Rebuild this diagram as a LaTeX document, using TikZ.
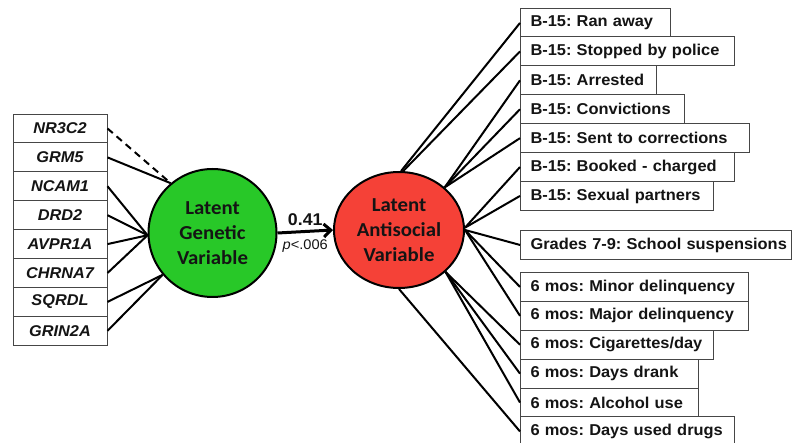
\documentclass[tikz,border=0pt]{standalone}
\usepackage{fontspec}
\usetikzlibrary{shapes.geometric,arrows.meta}
\newfontfamily\arialf[FakeStretch=1.045]{Liberation Sans}
\newfontfamily\calf[FakeStretch=1.05]{Carlito}
\definecolor{latgreen}{RGB}{40,200,40}
\definecolor{latred}{RGB}{245,65,55}
\definecolor{boxline}{RGB}{70,70,70}
\definecolor{txt}{RGB}{20,20,20}
\begin{document}
\frenchspacing
\begin{tikzpicture}[x=1pt,y=-1pt,
  lbox/.style={draw=boxline, line width=1pt, fill=white, text=txt,
    minimum width=94pt, minimum height=28.9pt, inner sep=0pt,
    font=\arialf\bfseries\itshape\fontsize{15.6}{17}\selectfont},
  rbox/.style={draw=boxline, line width=1pt, fill=white, text=txt, anchor=north west,
    minimum height=28.9pt, inner ysep=0pt, inner xsep=10pt, align=left,
    font=\arialf\bfseries\fontsize{15.7}{17}\selectfont},
  conn/.style={line width=2pt, black},
  latent/.style={draw=black, line width=2pt, text=txt, align=center,
    font=\calf\bfseries\fontsize{19.8}{25}\selectfont}]
\useasboundingbox (0,0) rectangle (793,443);

% latent variables
\node[latent, circle, fill=latgreen, minimum size=128pt, inner sep=0pt] (g) at (212.5,233)
  {Latent\\Genetic\\Variable};
\node[latent, ellipse, fill=latred, minimum width=130pt, minimum height=116pt, inner sep=0pt] (r) at (399,230)
  {Latent\\Antisocial\\Variable};

% left boxes
\node[lbox] (l1) at (60,128.5) {NR3C2};
\node[lbox] (l2) at (60,157.4) {GRM5};
\node[lbox] (l3) at (60,186.3) {NCAM1};
\node[lbox] (l4) at (60,215.2) {DRD2};
\node[lbox] (l5) at (60,244.1) {AVPR1A};
\node[lbox] (l6) at (60,273.0) {CHRNA7};
\node[lbox] (l7) at (60,301.9) {SQRDL};
\node[lbox] (l8) at (60,330.8) {GRIN2A};

\draw[conn, dashed, dash pattern=on 7pt off 5pt] (l1.east) -- (g.130);
\draw[conn] (l2.east) -- (g.130);
\draw[conn] (l3.east) -- (g.182);
\draw[conn] (l4.east) -- (g.182);
\draw[conn] (l5.east) -- (g.182);
\draw[conn] (l6.east) -- (g.182);
\draw[conn] (l7.east) -- (g.220);
\draw[conn] (l8.east) -- (g.220);

% structural path
\draw[line width=3pt, -{Straight Barb[length=7pt,width=13pt,line width=3pt]}] (g.east) -- (r.west)
  node[midway, above=1pt, font=\arialf\bfseries\fontsize{17}{19}\selectfont, text=txt] (coef) {0.41}
  node[midway, below=3pt, font=\arialf\fontsize{14}{16}\selectfont, text=txt] (pval) {\textit{p}<.006};

% right boxes
\node[rbox, text width=130pt] (r1) at (520,8)   {\mbox{B-15: Ran away}};
\node[rbox, text width=194pt] (r2) at (520,36.5) {\mbox{B-15: Stopped by police}};
\node[rbox, text width=116pt] (r3) at (520,65.4) {\mbox{B-15: Arrested}};
\node[rbox, text width=144pt] (r4) at (520,94.3) {\mbox{B-15: Convictions}};
\node[rbox, text width=209pt] (r5) at (520,123.2) {\mbox{B-15: Sent to corrections}};
\node[rbox, text width=194pt] (r6) at (520,152.1) {\mbox{B-15: Booked - charged}};
\node[rbox, text width=173pt] (r7) at (520,181) {\mbox{B-15: Sexual partners}};
\node[rbox, text width=251pt] (r8) at (520,230) {\mbox{Grades 7-9: School suspensions}};
\node[rbox, text width=208pt] (r9) at (520,272) {\mbox{6 mos: Minor delinquency}};
\node[rbox, text width=208pt] (r10) at (520,300.9) {\mbox{6 mos: Major delinquency}};
\node[rbox, text width=173pt] (r11) at (520,329.8) {\mbox{6 mos: Cigarettes/day}};
\node[rbox, text width=158pt] (r12) at (520,358.7) {\mbox{6 mos: Days drank}};
\node[rbox, text width=158pt] (r13) at (520,387.6) {\mbox{6 mos: Alcohol use}};
\node[rbox, text width=194pt] (r14) at (520,416.5) {\mbox{6 mos: Days used drugs}};

\draw[conn] (r.88) -- (r1.west);
\draw[conn] (r.86) -- (r2.west);
\draw[conn] (r.43) -- (r3.west);
\draw[conn] (r.43) -- (r4.west);
\draw[conn] (r.43) -- (r5.west);
\draw[conn] (r.2) -- (r6.west);
\draw[conn] (r.2) -- (r7.west);
\draw[conn] (r.0) -- (r8.west);
\draw[conn] (r.0) -- (r9.west);
\draw[conn] (r.0) -- (r10.west);
\draw[conn] (r.-42) -- (r11.west);
\draw[conn] (r.-42) -- (r12.west);
\draw[conn] (r.-42) -- (r13.west);
\draw[conn] (r.-90) -- (r14.west);
\end{tikzpicture}
\end{document}
